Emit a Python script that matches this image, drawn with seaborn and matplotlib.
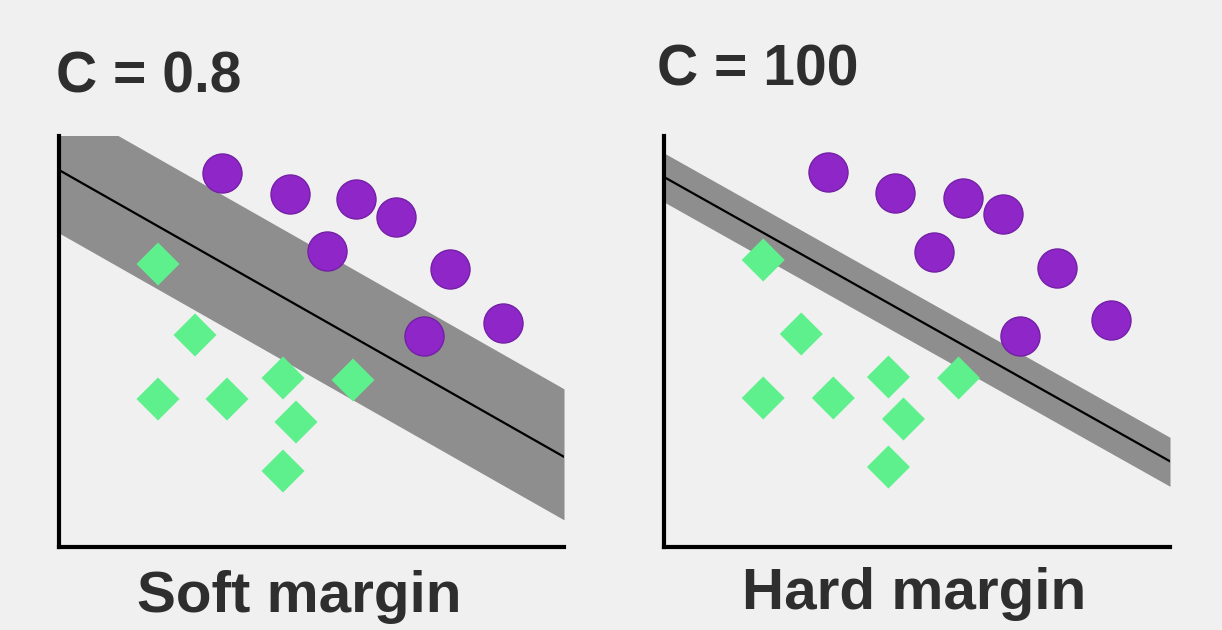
import numpy as np
import pandas as pd
import matplotlib
matplotlib.use("Agg")
import matplotlib.pyplot as plt
import seaborn as sns

# Panel texts
titles = ["C = 0.8", "C = 100"]
captions = ["Soft margin", "Hard margin"]

# Purple class (circles)
circle_x_soft = [163, 231, 297, 337, 268, 391, 365, 444]
circle_y_soft = [374, 353, 348, 330, 296, 278, 211, 224]
circle_x_hard = [164, 231, 298, 338, 269, 392, 355, 446]
circle_y_hard = [375, 354, 349, 333, 295, 279, 211, 227]

# Green class (diamonds)
diamond_x_soft = [99, 136, 99, 168, 224, 294, 237, 224]
diamond_y_soft = [283, 212, 148, 148, 169, 167, 125, 76]
diamond_x_hard = [99, 137, 99, 169, 224, 294, 239, 224]
diamond_y_hard = [287, 213, 149, 149, 170, 169, 128, 80]

# Decision line y = intercept + slope * x and margin width above / below it
line_intercept = [377, 370]
line_slope = [-0.568, -0.563]
margin_above = [68, 24]
margin_below = [63, 25]

x_range = (0, 505)
y_range = (0, 411)

BG = "#f0f0f0"
PURPLE = "#8e26c8"
GREEN = "#5ef08c"
BAND = "#8e8e8e"
TEXT = "#2e2e2e"

sns.set_theme(style="white")
plt.rcParams["font.family"] = ["Liberation Sans", "DejaVu Sans"]

fig = plt.figure(figsize=(12.22, 6.3), dpi=100, facecolor=BG)
axes = [
    fig.add_axes([59 / 1222, 83 / 630, 505 / 1222, 411 / 630]),
    fig.add_axes([664 / 1222, 83 / 630, 506 / 1222, 411 / 630]),
]

circles = [(circle_x_soft, circle_y_soft), (circle_x_hard, circle_y_hard)]
diamonds = [(diamond_x_soft, diamond_y_soft), (diamond_x_hard, diamond_y_hard)]

title_pos = [(-0.006, 1.107), (-0.014, 1.124)]
caption_pos = [(0.475, -0.158), (0.494, -0.150)]

for i, ax in enumerate(axes):
    ax.set_facecolor(BG)
    ax.set_xlim(*x_range)
    ax.set_ylim(*y_range)

    # margin band and separating line
    xs = np.array(x_range, dtype=float)
    ys = line_intercept[i] + line_slope[i] * xs
    ax.fill_between(xs, ys - margin_below[i], ys + margin_above[i],
                    color=BAND, lw=0, zorder=1)
    sns.lineplot(x=xs, y=ys, ax=ax, color="black", linewidth=1.6, zorder=2)

    df_c = pd.DataFrame({"x": circles[i][0], "y": circles[i][1]})
    df_d = pd.DataFrame({"x": diamonds[i][0], "y": diamonds[i][1]})
    sns.scatterplot(data=df_c, x="x", y="y", ax=ax, marker="o", s=790,
                    color=PURPLE, edgecolor="#7420a6", linewidth=1, zorder=3)
    sns.scatterplot(data=df_d, x="x", y="y", ax=ax, marker="D", s=480,
                    color=GREEN, edgecolor="none", linewidth=0, zorder=3)

    ax.set_xticks([])
    ax.set_yticks([])
    ax.set_xlabel("")
    ax.set_ylabel("")
    sns.despine(ax=ax)
    for side in ["left", "bottom"]:
        ax.spines[side].set_color("black")
        ax.spines[side].set_linewidth(3)

    ax.text(title_pos[i][0], title_pos[i][1], titles[i], transform=ax.transAxes,
            fontsize=41, fontweight="bold", color=TEXT, ha="left", va="baseline")
    ax.text(caption_pos[i][0], caption_pos[i][1], captions[i], transform=ax.transAxes,
            fontsize=42, fontweight="bold", color=TEXT, ha="center", va="baseline")

fig.savefig("out.png", dpi=100, facecolor=BG)
